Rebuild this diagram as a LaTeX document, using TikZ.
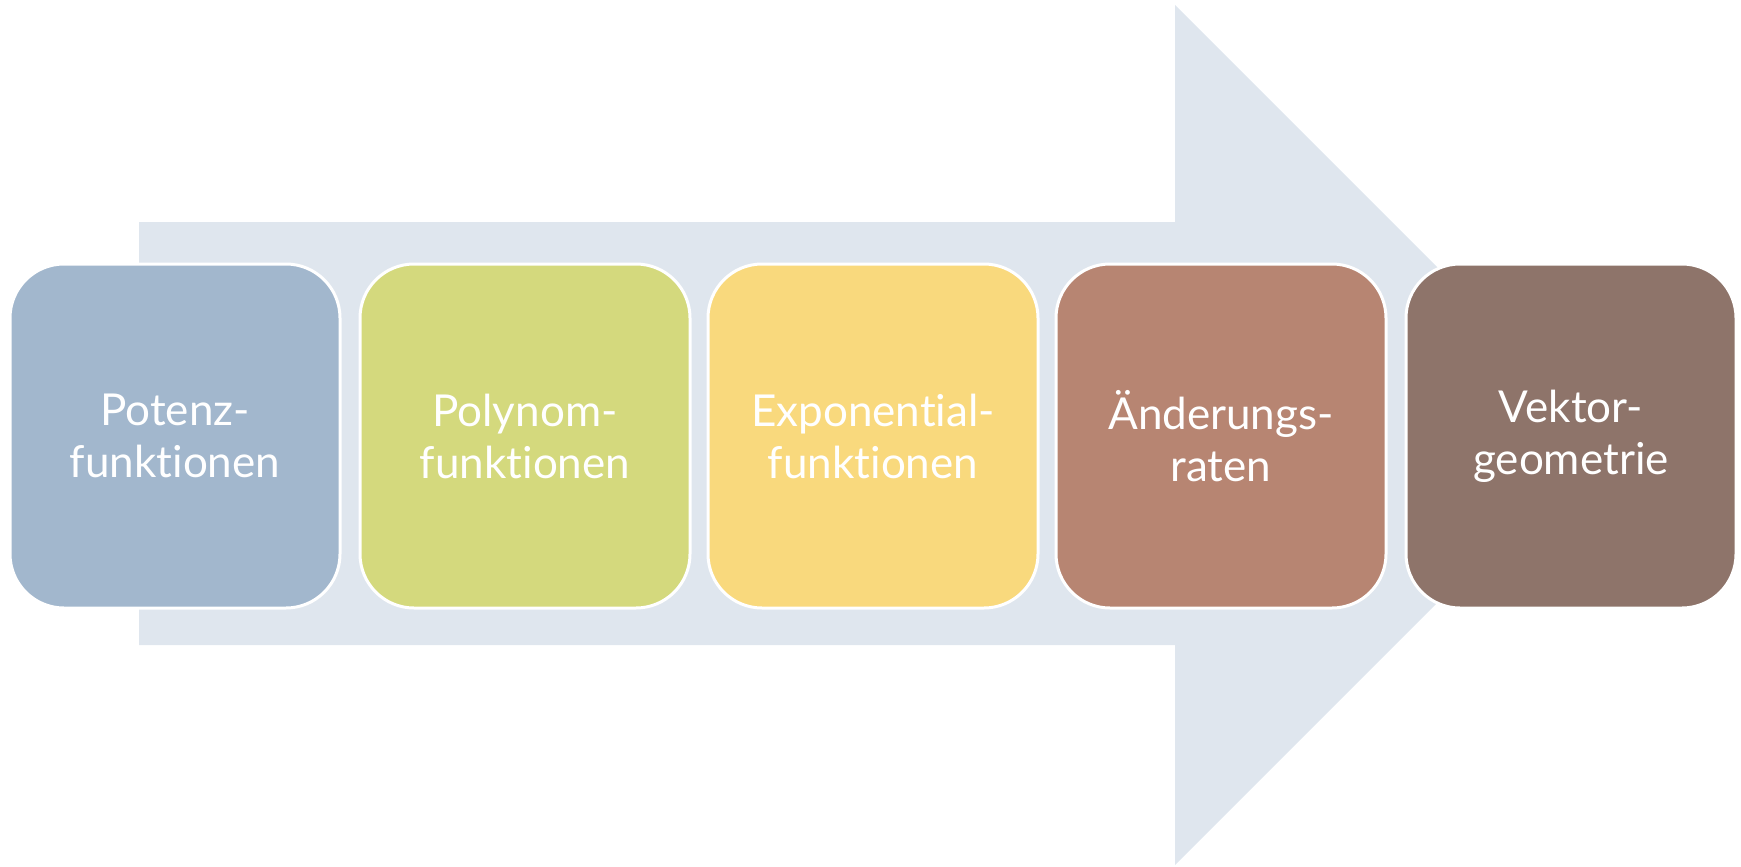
\documentclass[tikz,border=0pt]{standalone}
\usepackage{fontspec}
\setmainfont{Lato}[Ligatures={NoCommon}]
\definecolor{arrowc}{HTML}{DFE6EE}
\definecolor{c1}{HTML}{A2B7CD}
\definecolor{c2}{HTML}{D4D97D}
\definecolor{c3}{HTML}{F9D97D}
\definecolor{c4}{HTML}{B78572}
\definecolor{c5}{HTML}{8E746A}
\begin{document}
\begin{tikzpicture}[x=1pt,y=-1pt,
  boxstyle/.style={rectangle, rounded corners=54pt, draw=white, line width=3pt,
    minimum width=330pt, minimum height=344pt, inner sep=0pt, text=white,
    align=center, font=\fontsize{44}{52}\selectfont}]
\useasboundingbox (0,0) rectangle (1741,867);
\fill[arrowc] (139,222) -- (1175,222) -- (1175,5) -- (1605,435) -- (1175,865) -- (1175,645) -- (139,645) -- cycle;
\node[boxstyle, fill=c1] (b1) at (175,436) {Potenz-\\funktionen};
\node[boxstyle, fill=c2] (b2) at (525,436) {Polynom-\\funktionen};
\node[boxstyle, fill=c3] (b3) at (873,436) {Exponential-\\funktionen};
\node[boxstyle, fill=c4] (b4) at (1221,436) {Änderungs-\\raten};
\node[boxstyle, fill=c5] (b5) at (1571,436) {Vektor-\\geometrie};
\end{tikzpicture}
\end{document}
